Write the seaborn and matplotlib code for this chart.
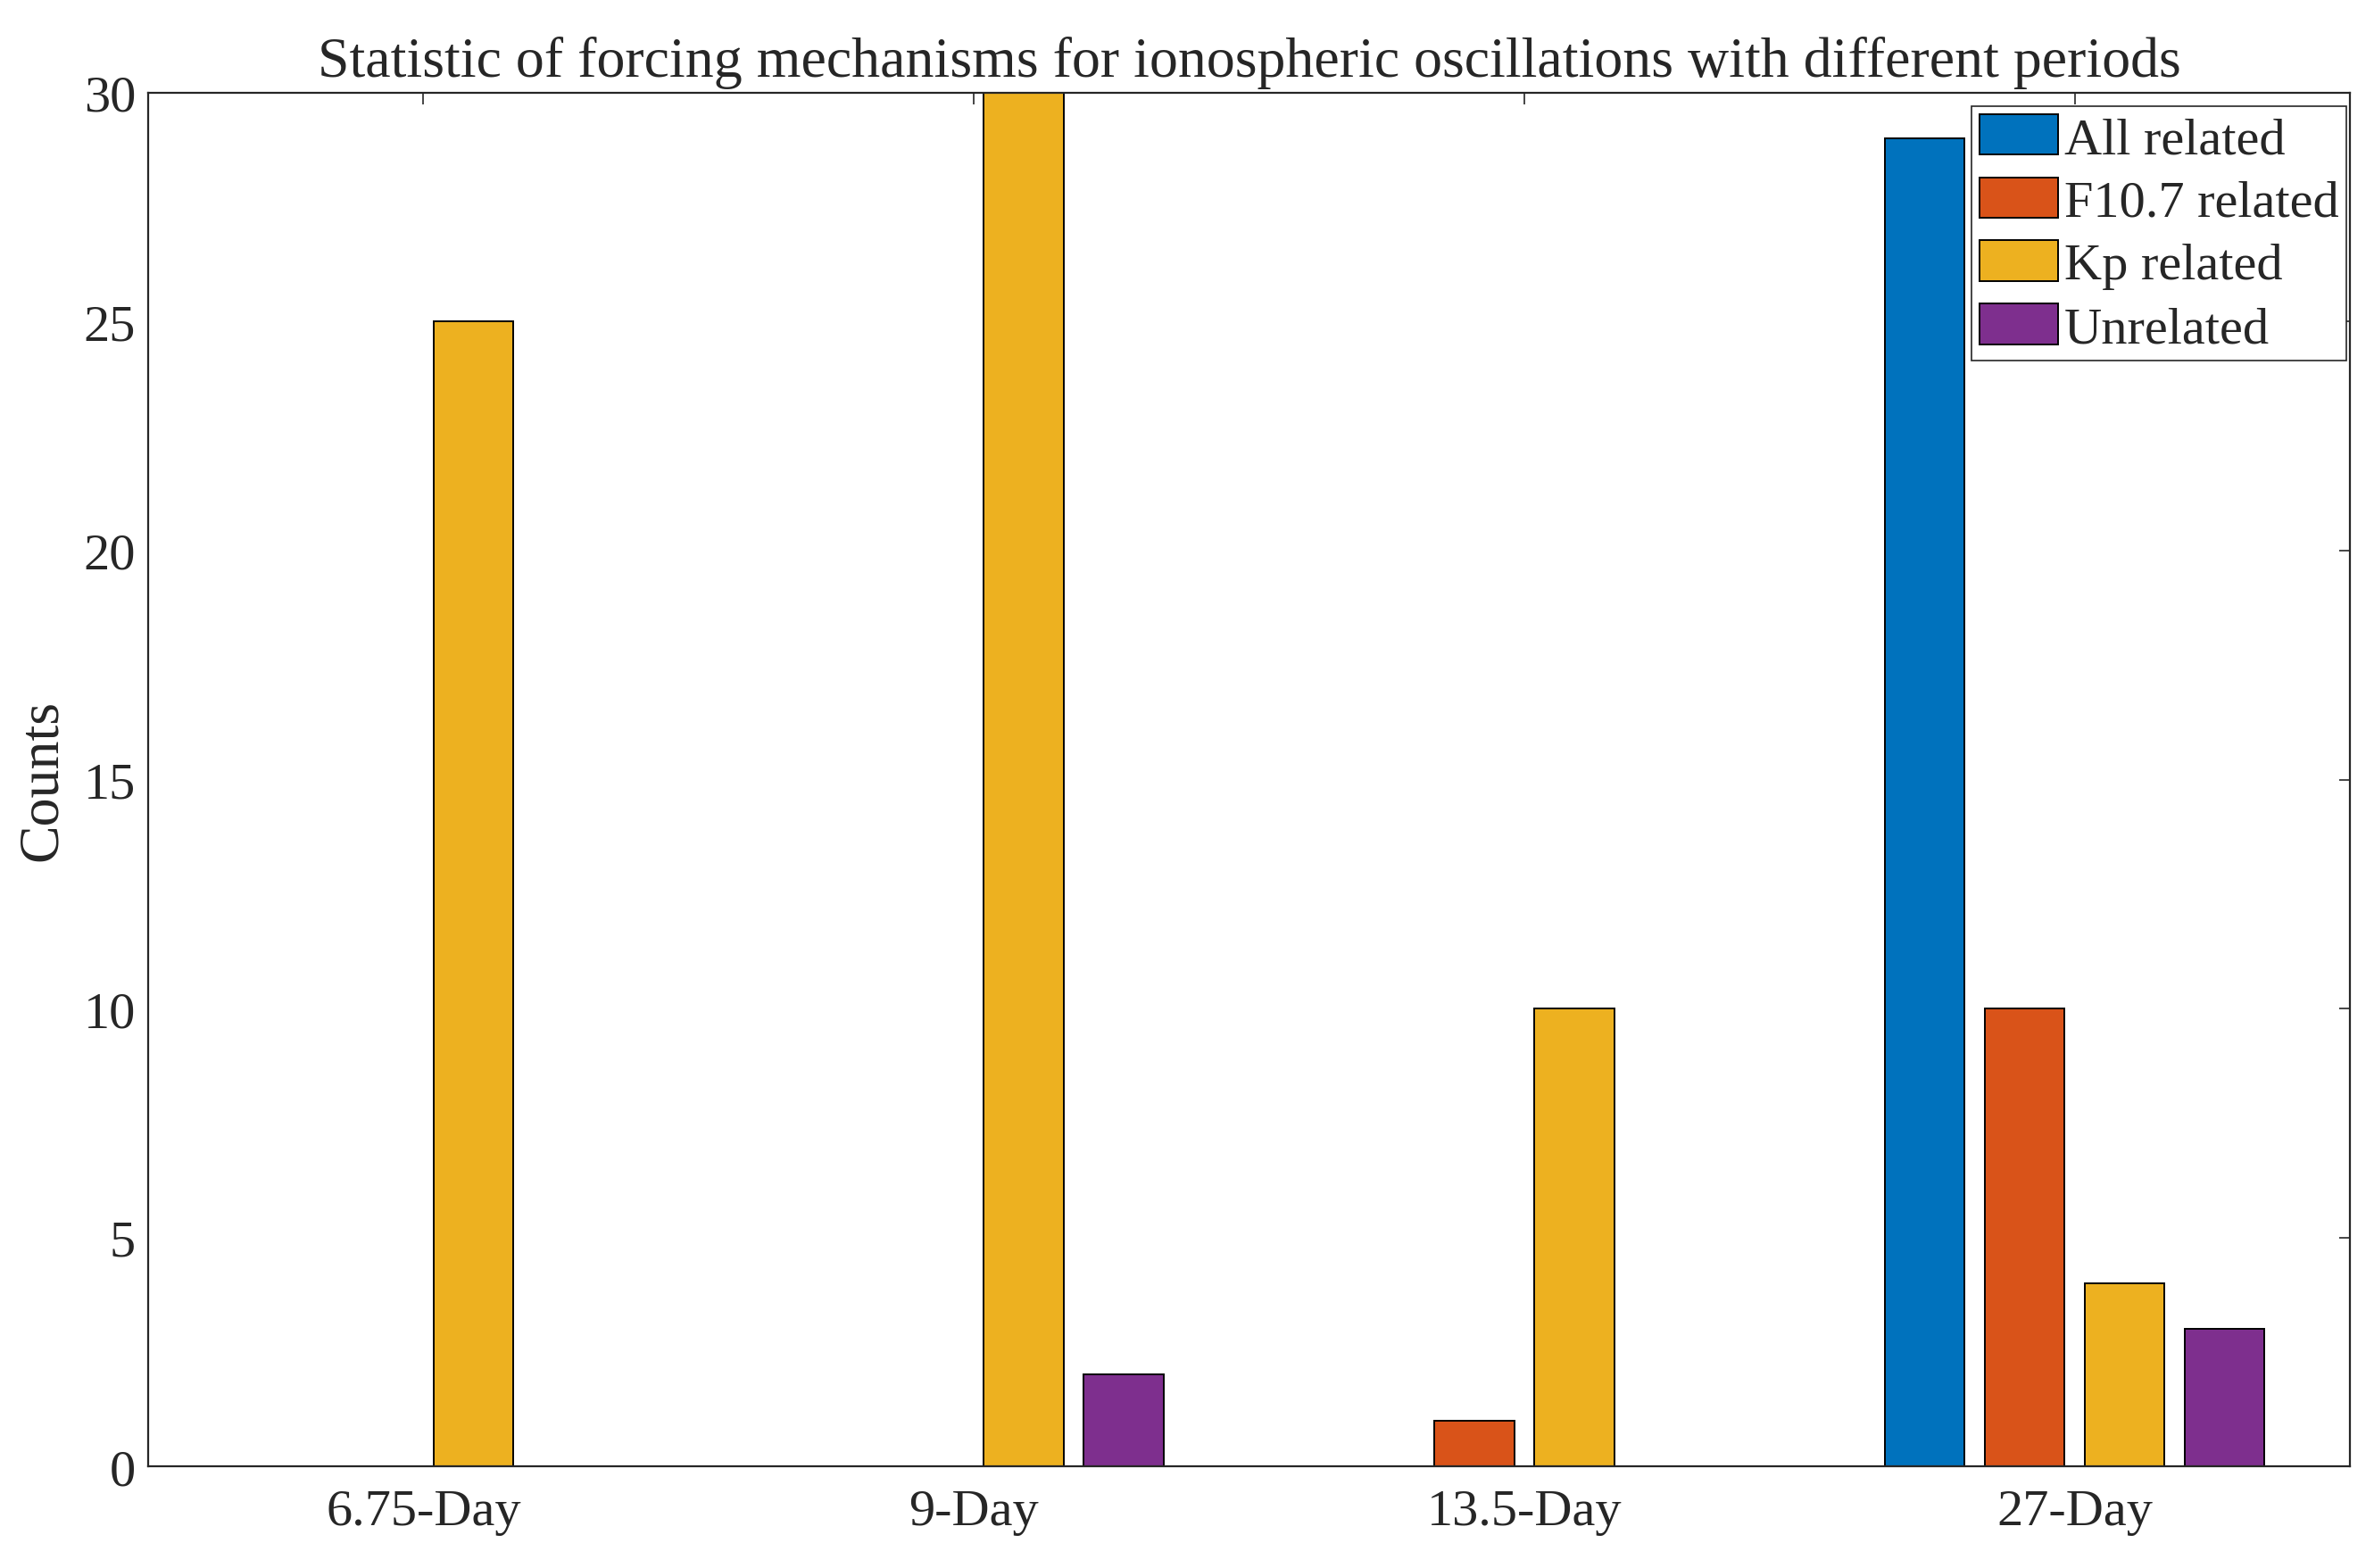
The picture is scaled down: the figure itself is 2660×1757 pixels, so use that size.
import pandas as pd
import matplotlib
matplotlib.use('Agg')
import matplotlib.pyplot as plt
import seaborn as sns

# counts
periods = ['6.75-Day', '9-Day', '13.5-Day', '27-Day']
all_related = [0, 0, 0, 29]
f107_related = [0, 0, 1, 10]
kp_related = [25, 30, 10, 4]
unrelated = [0, 2, 0, 3]
series_names = ['All related', 'F10.7 related', 'Kp related', 'Unrelated']
colors = ['#0072BD', '#D95319', '#EDB120', '#7E2F8E']

rows = []
for name, vals in zip(series_names, [all_related, f107_related, kp_related, unrelated]):
    for p, v in zip(periods, vals):
        rows.append({'period': p, 'count': v, 'type': name})
df = pd.DataFrame(rows)

sns.set_style('white')
plt.rcParams['font.family'] = ['Liberation Serif', 'DejaVu Serif']

fig = plt.figure(figsize=(13.3, 8.79), dpi=200)
ax = fig.add_axes([0.0624, 0.0648, 0.9274, 0.8755])

sns.barplot(data=df, x='period', y='count', hue='type', order=periods,
            hue_order=series_names, palette=colors, saturation=1,
            width=0.727, gap=0.2, edgecolor='black', linewidth=0.7, ax=ax)

ax.set_xlim(-0.5, 3.5)
ax.set_ylim(0, 30)
ax.set_yticks([0, 5, 10, 15, 20, 25, 30])
ax.set_xlabel('')
ax.set_ylabel('Counts', fontsize=23, labelpad=6)
ax.set_title('Statistic of forcing mechanisms for ionospheric oscillations with different periods',
             fontsize=23, pad=7)
ax.tick_params(direction='in', top=True, right=True, length=4.5, width=0.6,
               labelsize=21, pad=9, color='#262626')
ax.tick_params(axis='y', pad=5)
for s in ax.spines.values():
    s.set_visible(True)
    s.set_linewidth(0.8)
    s.set_color('#262626')

ax.legend(loc='upper right', bbox_to_anchor=(0.9985, 0.99), borderaxespad=0,
          fontsize=21, frameon=True, fancybox=False,
          edgecolor='#262626', framealpha=1,
          handlelength=1.5, handleheight=0.82, handletextpad=0.12,
          labelspacing=0.27, borderpad=0.15)
ax.get_legend().get_frame().set_linewidth(0.6)

fig.savefig('out.png', dpi=200)
